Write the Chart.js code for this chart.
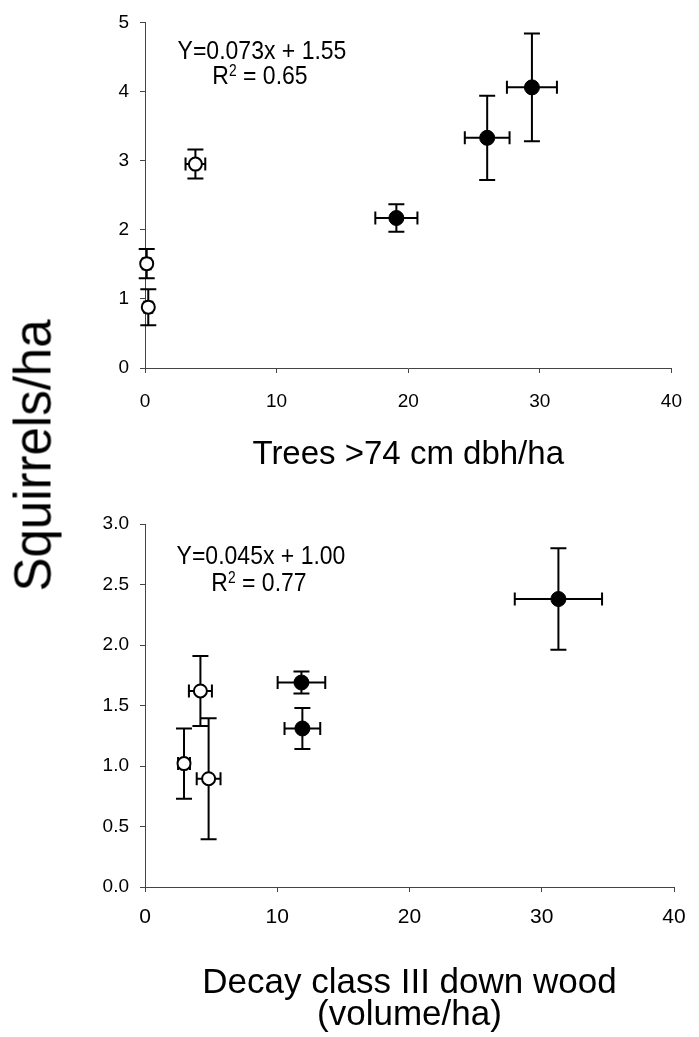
<!DOCTYPE html>
<html>
<head>
<meta charset="utf-8">
<script src="https://cdn.jsdelivr.net/npm/chart.js@4.4.0/dist/chart.umd.min.js"></script>
<style>
html,body{margin:0;padding:0;background:#fff;}
#wrap{position:relative;width:699px;height:1037px;overflow:hidden;font-family:"Liberation Sans",Arial,sans-serif;color:#000;background:#fff;}
canvas{position:absolute;left:0;top:0;}
.eq{position:absolute;width:300px;text-align:center;font-size:23px;line-height:23px;white-space:nowrap;transform:scale(1,1.15);transform-origin:50% 19.5px;}
.eq sup{font-size:0.6em;position:relative;top:-0.5em;vertical-align:baseline;line-height:0;}
#ytitle{position:absolute;width:400px;height:51px;line-height:51px;font-size:51px;text-align:center;left:-167px;top:429.5px;transform:rotate(-90deg);white-space:nowrap;}
</style>
</head>
<body>
<div id="wrap">
  <canvas id="top" width="699" height="1037"></canvas>
  <canvas id="bottom" width="699" height="1037"></canvas>
  <div id="ytitle">Squirrels/ha</div>
  <div class="eq" style="left:112px;top:40px;">Y=0.073x + 1.55</div>
  <div class="eq" style="left:110px;top:64.5px;">R<sup>2</sup> = 0.65</div>
  <div class="eq" style="left:111px;top:545px;">Y=0.045x + 1.00</div>
  <div class="eq" style="left:109px;top:572px;">R<sup>2</sup> = 0.77</div>
</div>
<script>
// ---------- data ----------
const xTickValues = [0, 10, 20, 30, 40];
const xTickLabels = ['0', '10', '20', '30', '40'];

const topYTickValues = [0, 1, 2, 3, 4, 5];
const topYTickLabels = ['0', '1', '2', '3', '4', '5'];
const bottomYTickValues = [0, 0.5, 1, 1.5, 2, 2.5, 3];
const bottomYTickLabels = ['0.0', '0.5', '1.0', '1.5', '2.0', '2.5', '3.0'];

// Top panel: trees >74 cm dbh/ha vs squirrels/ha
const treesOpenX    = [0.13, 0.25, 3.83];
const treesOpenY    = [1.51, 0.88, 2.95];
const treesOpenXErr = [0.3, 0.3, 0.75];
const treesOpenYErr = [0.21, 0.26, 0.21];

const treesFilledX    = [19.1, 26.0, 29.4];
const treesFilledY    = [2.17, 3.33, 4.06];
const treesFilledXErr = [1.6, 1.7, 1.9];
const treesFilledYErr = [0.2, 0.61, 0.78];

// Bottom panel: decay class III down wood vs squirrels/ha
const decayOpenX    = [2.95, 4.19, 4.81];
const decayOpenY    = [1.02, 1.62, 0.895];
const decayOpenXErr = [0.45, 0.87, 0.9];
const decayOpenYErr = [0.29, 0.29, 0.5];

const decayFilledX    = [11.83, 11.9, 31.26];
const decayFilledY    = [1.69, 1.31, 2.38];
const decayFilledXErr = [1.8, 1.35, 3.3];
const decayFilledYErr = [0.09, 0.17, 0.42];

// ---------- helpers ----------
function pts(xs, ys) { return xs.map((v, i) => ({x: v, y: ys[i]})); }

const errorBars = {
  id: 'errorBars',
  beforeDatasetsDraw(chart) {
    const {ctx} = chart;
    const xs = chart.scales.x, ys = chart.scales.y;
    ctx.save();
    ctx.strokeStyle = '#000';
    ctx.lineWidth = 2;
    ctx.lineCap = 'butt';
    chart.data.datasets.forEach(ds => {
      ds.data.forEach((p, i) => {
        const ex = ds.errX[i], ey = ds.errY[i];
        const px = xs.getPixelForValue(p.x), py = ys.getPixelForValue(p.y);
        const x1 = xs.getPixelForValue(p.x - ex), x2 = xs.getPixelForValue(p.x + ex);
        const y1 = ys.getPixelForValue(p.y - ey), y2 = ys.getPixelForValue(p.y + ey);
        const capV = 8, capH = 6.5;
        ctx.beginPath();
        ctx.moveTo(px, y1); ctx.lineTo(px, y2);
        ctx.moveTo(px - capV, y1); ctx.lineTo(px + capV, y1);
        ctx.moveTo(px - capV, y2); ctx.lineTo(px + capV, y2);
        ctx.moveTo(x1, py); ctx.lineTo(x2, py);
        ctx.moveTo(x1, py - capH); ctx.lineTo(x1, py + capH);
        ctx.moveTo(x2, py - capH); ctx.lineTo(x2, py + capH);
        ctx.stroke();
      });
    });
    ctx.restore();
  }
};

const FONT = '"Liberation Sans", Arial, sans-serif';
const AXIS = '#444';

function makeChart(id, cfg) {
  return new Chart(document.getElementById(id), {
    type: 'scatter',
    data: {
      datasets: [
        {
          data: pts(cfg.openX, cfg.openY), errX: cfg.openXErr, errY: cfg.openYErr,
          pointRadius: 6.5, pointHoverRadius: 6.5, pointBackgroundColor: '#fff',
          pointBorderColor: '#000', pointBorderWidth: 2, clip: false
        },
        {
          data: pts(cfg.fillX, cfg.fillY), errX: cfg.fillXErr, errY: cfg.fillYErr,
          pointRadius: 7.5, pointHoverRadius: 7.5, pointBackgroundColor: '#000',
          pointBorderColor: '#000', pointBorderWidth: 1, clip: false
        }
      ]
    },
    options: {
      responsive: false,
      animation: false,
      events: [],
      layout: {padding: cfg.padding},
      plugins: {legend: {display: false}, tooltip: {enabled: false}},
      scales: {
        x: {
          type: 'linear', min: 0, max: 40,
          afterBuildTicks: ax => { ax.ticks = xTickValues.map(v => ({value: v})); },
          afterFit: ax => { ax.height = cfg.xHeight; },
          ticks: {
            callback: (v) => xTickLabels[xTickValues.indexOf(v)],
            color: '#000', font: {family: FONT, size: cfg.xTickSize}, padding: cfg.xTickPad,
            maxRotation: 0, autoSkip: false
          },
          grid: {display: true, drawOnChartArea: false, drawTicks: true, tickLength: 5, color: AXIS, lineWidth: 1},
          border: {display: true, color: AXIS, width: 1},
          title: {display: true, text: cfg.xTitle, color: '#000',
                  font: {family: FONT, size: cfg.xTitleSize, lineHeight: cfg.xTitleLH}, padding: 0}
        },
        y: {
          type: 'linear', min: cfg.yMin, max: cfg.yMax,
          afterBuildTicks: ax => { ax.ticks = cfg.yVals.map(v => ({value: v})); },
          afterFit: ax => { ax.width = 60; },
          ticks: {
            callback: (v) => cfg.yLabels[cfg.yVals.indexOf(v)],
            color: '#000', font: {family: FONT, size: 19}, padding: 11, autoSkip: false
          },
          grid: {display: true, drawOnChartArea: false, drawTicks: true, tickLength: 5, color: AXIS, lineWidth: 1},
          border: {display: true, color: AXIS, width: 1}
        }
      }
    },
    plugins: [errorBars]
  });
}

makeChart('top', {
  openX: treesOpenX, openY: treesOpenY, openXErr: treesOpenXErr, openYErr: treesOpenYErr,
  fillX: treesFilledX, fillY: treesFilledY, fillXErr: treesFilledXErr, fillYErr: treesFilledYErr,
  padding: {left: 85, top: 17, right: 23, bottom: 562},
  xHeight: 107, xTickSize: 19, xTickPad: 17,
  xTitle: 'Trees >74 cm dbh/ha', xTitleSize: 33, xTitleLH: 1.2,
  yMin: 0, yMax: 5, yVals: topYTickValues, yLabels: topYTickLabels
});

makeChart('bottom', {
  openX: decayOpenX, openY: decayOpenY, openXErr: decayOpenXErr, openYErr: decayOpenYErr,
  fillX: decayFilledX, fillY: decayFilledY, fillXErr: decayFilledXErr, fillYErr: decayFilledYErr,
  padding: {left: 85, top: 524, right: 25, bottom: 6},
  xHeight: 144, xTickSize: 21, xTickPad: 13,
  xTitle: ['Decay class III down wood', '(volume/ha)'], xTitleSize: 35, xTitleLH: '32px',
  yMin: 0, yMax: 3, yVals: bottomYTickValues, yLabels: bottomYTickLabels
});
</script>
</body>
</html>
